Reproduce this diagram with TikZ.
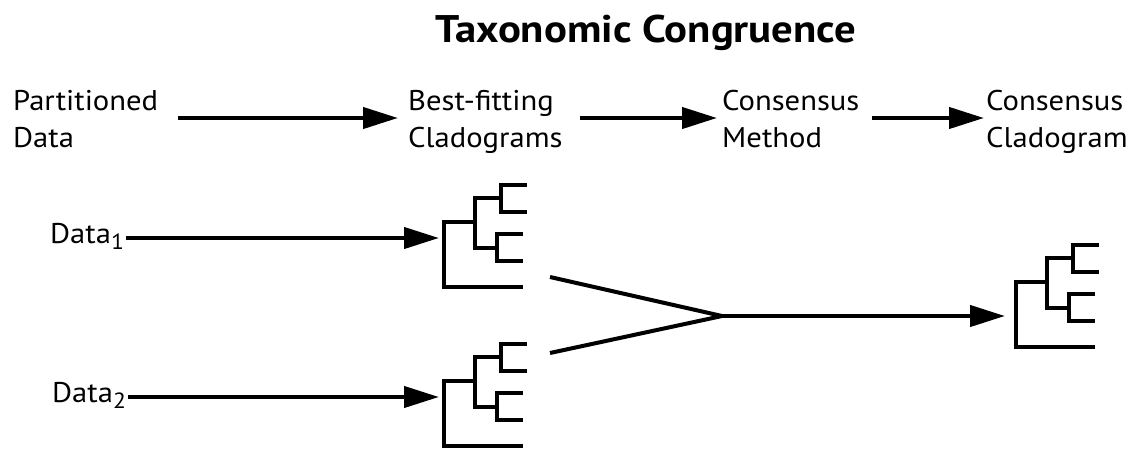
\documentclass[tikz,border=0pt]{standalone}
\usepackage{fontspec}
\setmainfont[FakeStretch=1.075]{PT Sans}
\newfontfamily\headfont[FakeStretch=1.11]{PT Sans}
\usetikzlibrary{arrows.meta}
% two stacked lines whose baseline is the first line's
\newcommand{\twolines}[2]{\vtop{\baselineskip=37pt\hbox{#1}\hbox{#2}}}
\begin{document}
\begin{tikzpicture}[x=1pt,y=-1pt,
  lbl/.style={anchor=base west,inner sep=0pt,font=\fontsize{28.5}{37}\selectfont},
  ttl/.style={anchor=base,inner sep=0pt,font=\headfont\fontsize{38.5}{44}\selectfont\bfseries},
  arr/.style={line width=4.2pt,-{Triangle[length=35pt,width=21pt]}},
  branch/.style={line width=4pt,line join=miter,line cap=butt},
  clado/.pic={
    \draw[branch] (31,0) -- (0,0) -- (0,65) -- (79,65);
    \draw[branch] (57,-24) -- (31,-24) -- (31,26) -- (53,26);
    \draw[branch] (83,-37) -- (57,-37) -- (57,-10) -- (83,-10);
    \draw[branch] (79,12) -- (53,12) -- (53,39) -- (79,39);
  }]
\useasboundingbox[fill=white] (0,0) rectangle (1136,450);

% title
\node[ttl] (title) at (646,42) {Taxonomic Congruence};

% header row
\node[lbl] (pd) at (13,110)  {\twolines{Partitioned}{Data}};
\node[lbl] (bf) at (408,110) {\twolines{Best-fitting}{Cladograms}};
\node[lbl] (cm) at (722,110) {\twolines{Consensus}{Method}};
\node[lbl] (cc) at (986,110) {\twolines{Consensus}{Cladogram}};
\coordinate (row) at (0,118);
\draw[arr,shorten <=20pt,shorten >=10pt] (pd.east |- row) -- (bf.west |- row);
\draw[arr,shorten <=17pt,shorten >=5pt]  (bf.east |- row) -- (cm.west |- row);
\draw[arr,shorten <=12pt,shorten >=2pt]  (cm.east |- row) -- (cc.west |- row);

% data partitions
\node[lbl] (d1) at (50,243) {Data\raisebox{-6pt}{\fontsize{22}{22}\selectfont 1}};
\node[lbl] (d2) at (52,402) {Data\raisebox{-6pt}{\fontsize{22}{22}\selectfont 2}};

% cladograms
\pic at (444,222) {clado};
\pic at (444,381) {clado};
\pic at (1016,282) {clado};
\coordinate (t1) at (439,238);
\coordinate (t2) at (439,397);
\coordinate (t3) at (1005,316);
\draw[arr,shorten <=2pt] (d1.east |- t1) -- (t1);
\draw[arr,shorten <=2pt] (d2.east |- t2) -- (t2);

% consensus of the two cladograms
\coordinate (ca) at (550,277);
\coordinate (cb) at (550,353);
\coordinate (apex) at (722,316);
\draw[branch] (ca) -- (apex) -- (cb);
\draw[arr] (apex) -- (t3);
\end{tikzpicture}
\end{document}
